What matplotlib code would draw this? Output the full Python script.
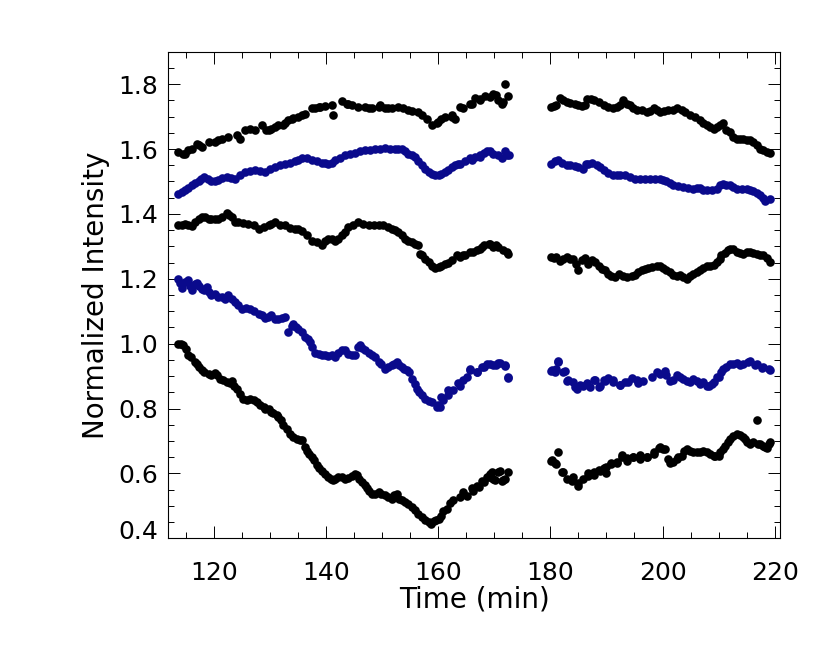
import matplotlib
matplotlib.use("Agg")
import matplotlib.pyplot as plt
import matplotlib.transforms as mtransforms
from matplotlib.ticker import MultipleLocator

plt.rcParams['font.family'] = ['DejaVu Sans']

# series 1 (top, black)
s1_t = [113.7, 114.9, 116.1, 117.3, 119.1, 120.8, 122.6, 124.1, 125.6, 127.4,
        128.6, 129.8, 131.0, 132.7, 133.9, 135.7, 137.5, 138.7, 139.8, 141.3,
        142.8, 144.0, 145.8, 147.6, 149.4, 151.1, 152.9, 154.7, 156.5, 158.0,
        158.9, 160.0, 161.2, 162.4,
        163.9, 165.7, 167.5, 169.2, 169.8, 170.7, 171.3, 171.9, 172.5,
        180.2, 181.1, 181.7, 182.9, 184.4, 186.2, 186.5, 187.7, 189.5, 191.2,
        191.8, 193.0, 194.2, 195.4, 197.2, 198.4, 199.6, 201.0, 202.5, 203.4,
        204.9, 206.7, 207.9, 209.1, 210.2, 211.4, 212.6, 213.8, 215.0, 216.2,
        217.4, 218.6, 219.2]
s1_v = [1.591, 1.586, 1.599, 1.612, 1.622, 1.627, 1.637, 1.643, 1.658, 1.658,
        1.673, 1.658, 1.668, 1.679, 1.694, 1.704, 1.725, 1.730, 1.733, 1.706,
        1.747, 1.740, 1.730, 1.725, 1.730, 1.725, 1.730, 1.720, 1.715, 1.694,
        1.673, 1.684, 1.699, 1.699,
        1.730, 1.740, 1.754, 1.761, 1.771, 1.751, 1.740, 1.802, 1.764,
        1.730, 1.737, 1.756, 1.745, 1.740, 1.735, 1.754, 1.751, 1.735, 1.725,
        1.730, 1.751, 1.735, 1.720, 1.715, 1.725, 1.715, 1.720, 1.725, 1.720,
        1.704, 1.689, 1.673, 1.663, 1.673, 1.658, 1.637, 1.632, 1.627, 1.622,
        1.601, 1.591, 1.589]
s1b_t = [114.6, 115.5, 117.0, 117.9, 120.2, 121.4, 124.7, 126.5, 129.4, 130.3,
         131.5, 132.4, 133.3, 134.2, 135.1, 136.3, 138.1, 139.0, 141.0, 143.7,
         144.6, 147.0, 148.2, 149.7, 150.5, 151.7, 153.8, 155.3, 157.1, 159.8,
         160.6, 162.4, 163.0, 164.5, 166.0, 166.6, 167.5, 168.4, 170.3, 171.5,
         180.7, 182.3, 183.5, 185.0, 185.6, 187.2, 188.6, 190.3, 192.4, 193.6,
         194.8, 196.3, 197.8, 199.0, 200.3, 201.9, 204.0, 205.8, 207.3, 208.5,
         209.7, 210.8, 212.0, 213.2, 214.4, 215.6, 216.8, 218.0]
s1b_v = [1.586, 1.596, 1.617, 1.607, 1.622, 1.632, 1.632, 1.663, 1.658, 1.663,
         1.673, 1.673, 1.689, 1.696, 1.699, 1.709, 1.725, 1.730, 1.735, 1.740,
         1.737, 1.730, 1.725, 1.735, 1.727, 1.725, 1.725, 1.717, 1.704, 1.679,
         1.694, 1.706, 1.694, 1.727, 1.740, 1.756, 1.751, 1.764, 1.766, 1.746,
         1.733, 1.751, 1.743, 1.737, 1.733, 1.754, 1.745, 1.730, 1.737, 1.740,
         1.725, 1.720, 1.717, 1.720, 1.717, 1.720, 1.715, 1.699, 1.679, 1.668,
         1.668, 1.679, 1.653, 1.632, 1.632, 1.627, 1.612, 1.596]

# series 2 (blue)
s2_t = [113.7, 114.9, 116.1, 117.3, 118.2, 119.6, 120.8, 122.3, 123.8, 125.6,
        127.4, 129.2, 130.9, 132.7, 134.5, 135.7, 137.5, 139.3, 140.4, 141.6,
        143.4, 145.2, 147.0, 148.8, 150.5, 152.3, 153.5, 154.7, 155.9, 157.1,
        158.3, 159.5, 160.6, 161.8, 163.0,
        163.9, 165.7, 167.5, 168.7, 169.8, 171.3, 171.9, 172.7,
        180.2, 181.4, 182.9, 184.4, 185.9, 186.8, 188.3, 189.5, 191.2, 192.4,
        194.2, 196.0, 197.8, 199.6, 200.7, 201.9, 203.7, 205.5, 206.7, 207.9,
        209.7, 210.8, 212.0, 213.2, 215.0, 216.2, 217.4, 218.3, 219.2]
s2_v = [1.462, 1.473, 1.488, 1.501, 1.514, 1.501, 1.504, 1.514, 1.509, 1.530,
        1.535, 1.530, 1.545, 1.555, 1.562, 1.571, 1.565, 1.558, 1.555, 1.565,
        1.583, 1.589, 1.596, 1.599, 1.603, 1.599, 1.601, 1.586, 1.576, 1.550,
        1.530, 1.519, 1.524, 1.535, 1.552,
        1.555, 1.573, 1.583, 1.593, 1.586, 1.571, 1.593, 1.581,
        1.555, 1.565, 1.552, 1.548, 1.540, 1.555, 1.552, 1.535, 1.519, 1.521,
        1.514, 1.507, 1.507, 1.509, 1.501, 1.490, 1.483, 1.478, 1.480, 1.473,
        1.478, 1.493, 1.490, 1.478, 1.476, 1.470, 1.457, 1.439, 1.445]
s2b_t = [114.3, 115.5, 116.7, 117.7, 118.9, 120.2, 121.5, 123.1, 124.7, 126.5,
         128.3, 130.0, 131.8, 133.6, 135.1, 136.6, 138.4, 139.8, 141.0, 142.5,
         144.3, 146.1, 147.9, 149.7, 151.4, 152.9, 154.1, 155.3, 156.5, 157.7,
         158.9, 160.1, 161.2, 162.4, 163.6, 164.8, 166.0, 166.6, 167.5, 168.1,
         169.2, 170.6, 172.2,
         180.8, 182.0, 183.5, 185.0, 186.4, 187.5, 188.9, 190.3, 191.8, 193.3,
         195.1, 196.9, 198.7, 200.1, 201.3, 202.8, 204.6, 206.1, 207.3, 208.8,
         210.2, 211.4, 212.6, 214.1, 215.6, 216.8, 218.0]
s2b_v = [1.468, 1.480, 1.496, 1.507, 1.509, 1.501, 1.511, 1.511, 1.519, 1.531,
         1.531, 1.538, 1.550, 1.558, 1.565, 1.571, 1.562, 1.558, 1.558, 1.573,
         1.586, 1.593, 1.596, 1.601, 1.601, 1.601, 1.593, 1.581, 1.562, 1.540,
         1.524, 1.519, 1.530, 1.545, 1.555, 1.562, 1.565, 1.576, 1.576, 1.589,
         1.593, 1.581, 1.583,
         1.562, 1.558, 1.552, 1.545, 1.555, 1.558, 1.545, 1.527, 1.519, 1.519,
         1.509, 1.507, 1.509, 1.504, 1.496, 1.486, 1.480, 1.480, 1.473, 1.473,
         1.490, 1.490, 1.483, 1.478, 1.473, 1.466, 1.449]

# series 3 (middle, black)
s3_t = [113.7, 114.9, 116.1, 117.3, 118.5, 119.6, 120.8, 122.3, 123.2, 124.4,
        126.2, 128.0, 129.8, 130.9, 132.7, 134.5, 135.7, 137.5, 139.3, 140.4,
        141.6, 142.8, 144.0, 145.8, 147.6, 149.4, 151.1, 152.3, 152.9, 154.1,
        155.3, 156.5, 157.1, 158.3, 159.5, 160.6, 161.8,
        163.9, 165.7, 166.9, 168.1, 169.0, 169.8, 170.7, 171.6, 172.5,
        180.2, 181.1, 181.7, 182.9, 184.1, 185.0, 186.2, 186.8, 188.0, 189.2,
        190.3, 191.5, 193.0, 194.5, 195.7, 196.9, 198.1, 199.6, 200.7, 201.9,
        203.1, 204.3, 205.5, 206.7, 207.9, 209.1, 210.2, 211.1, 212.0, 213.2,
        214.4, 215.6, 216.8, 218.0, 219.2]
s3_v = [1.365, 1.370, 1.363, 1.385, 1.390, 1.385, 1.383, 1.404, 1.390, 1.375,
        1.370, 1.354, 1.365, 1.375, 1.365, 1.354, 1.346, 1.318, 1.303, 1.324,
        1.315, 1.334, 1.360, 1.375, 1.365, 1.367, 1.360, 1.349, 1.344, 1.324,
        1.313, 1.303, 1.272, 1.252, 1.233, 1.241, 1.249,
        1.267, 1.282, 1.288, 1.303, 1.308, 1.298, 1.298, 1.288, 1.277,
        1.267, 1.267, 1.254, 1.267, 1.262, 1.226, 1.264, 1.246, 1.252, 1.231,
        1.216, 1.205, 1.210, 1.208, 1.221, 1.229, 1.236, 1.241, 1.226, 1.212,
        1.212, 1.200, 1.216, 1.226, 1.241, 1.243, 1.262, 1.280, 1.293, 1.284,
        1.277, 1.282, 1.277, 1.272, 1.252]
s3b_t = [114.3, 115.5, 116.7, 117.9, 119.1, 120.2, 121.5, 122.7, 123.8, 125.3,
         127.1, 128.9, 130.3, 131.8, 133.6, 135.1, 136.6, 138.4, 139.8, 141.0,
         142.2, 143.4, 144.9, 146.7, 148.5, 150.2, 151.7, 153.5, 154.7, 155.9,
         156.8, 157.7, 158.9, 160.1, 161.2, 162.4, 163.3, 164.5, 164.8, 166.3,
         167.5, 167.8, 169.2, 170.4, 172.2,
         180.7, 182.3, 183.5, 184.6, 185.6, 187.4, 188.6, 189.7, 190.9, 192.3,
         193.6, 195.1, 196.3, 197.5, 199.0, 200.1, 201.3, 202.5, 203.7, 204.9,
         206.1, 207.3, 208.5, 209.7, 210.5, 211.7, 212.6, 213.8, 215.0, 216.2,
         217.4, 218.6]
s3b_v = [1.367, 1.365, 1.375, 1.390, 1.385, 1.383, 1.390, 1.396, 1.375, 1.373,
         1.365, 1.360, 1.370, 1.365, 1.356, 1.352, 1.334, 1.313, 1.318, 1.322,
         1.324, 1.344, 1.365, 1.370, 1.367, 1.365, 1.352, 1.334, 1.318, 1.308,
         1.277, 1.262, 1.241, 1.236, 1.246, 1.257, 1.272, 1.274, 1.272, 1.282,
         1.293, 1.298, 1.308, 1.303, 1.282,
         1.264, 1.262, 1.260, 1.246, 1.257, 1.257, 1.241, 1.226, 1.210, 1.216,
         1.205, 1.212, 1.226, 1.233, 1.239, 1.233, 1.221, 1.210, 1.205, 1.210,
         1.221, 1.233, 1.241, 1.252, 1.272, 1.288, 1.291, 1.280, 1.282, 1.280,
         1.274, 1.264]

# series 4 (blue)
s4_t = [113.7, 114.3, 115.5, 116.1, 117.0, 117.9, 118.8, 119.6, 120.8, 122.0,
        122.6, 123.8, 125.0, 126.5, 128.0, 129.2, 130.3, 131.5, 132.7, 133.3,
        134.2, 135.1, 136.3, 137.2, 138.1, 139.3, 140.4, 141.6, 142.8, 144.0,
        145.2, 146.1, 147.0, 148.2, 149.4, 150.5, 151.7, 152.6, 153.5, 154.4,
        155.3, 156.2, 157.1, 158.3, 159.8, 160.6, 161.8,
        163.9, 165.1, 165.7, 166.9, 168.1, 169.2, 170.4, 171.0, 171.9, 172.5,
        180.2, 181.1, 181.4, 182.3, 182.9, 184.1, 184.7, 185.9, 187.1, 188.0,
        188.9, 189.8, 191.2, 192.4, 193.9, 195.4, 196.6, 198.1, 199.0, 200.5,
        201.3, 202.5, 203.7, 204.9, 206.1, 207.3, 208.2, 209.1, 210.0, 210.5,
        211.4, 212.6, 213.8, 215.3, 216.5, 217.7, 219.2]
s4_v = [1.200, 1.171, 1.195, 1.164, 1.188, 1.169, 1.174, 1.149, 1.144, 1.138,
        1.149, 1.128, 1.108, 1.108, 1.092, 1.079, 1.087, 1.075, 1.082, 1.036,
        1.061, 1.046, 1.020, 1.005, 0.972, 0.966, 0.962, 0.959, 0.979, 0.969,
        0.966, 0.995, 0.979, 0.964, 0.943, 0.923, 0.933, 0.943, 0.928, 0.918,
        0.892, 0.861, 0.841, 0.822, 0.805, 0.835, 0.856,
        0.871, 0.897, 0.922, 0.912, 0.927, 0.938, 0.933, 0.941, 0.930, 0.893,
        0.917, 0.922, 0.945, 0.912, 0.886, 0.881, 0.861, 0.871, 0.866, 0.889,
        0.871, 0.886, 0.881, 0.873, 0.881, 0.889, 0.886, 0.897, 0.912, 0.917,
        0.886, 0.902, 0.891, 0.881, 0.886, 0.881, 0.869, 0.881, 0.897, 0.912,
        0.927, 0.938, 0.933, 0.943, 0.933, 0.924, 0.920]
s4b_t = [114.0, 114.9, 115.8, 116.6, 117.3, 118.3, 119.2, 120.2, 121.4, 123.2,
         124.4, 125.7, 127.1, 128.6, 129.7, 130.9, 132.1, 133.9, 134.6, 135.7,
         136.8, 137.6, 138.7, 139.8, 141.0, 142.2, 143.4, 144.6, 145.7, 146.5,
         147.6, 148.8, 149.9, 151.1, 152.2, 153.0, 154.0, 154.8, 155.8, 156.6,
         157.7, 158.9, 159.9,
         160.3, 160.9, 161.8, 162.7, 163.6, 164.5, 165.7, 166.9, 167.8, 168.7,
         169.8, 170.7, 171.9, 172.5,
         180.3, 180.8, 181.4, 182.6, 183.2, 184.4, 185.3, 186.5, 187.7, 188.6,
         189.5, 190.3, 191.2, 192.4, 193.3, 194.5, 195.7,
         199.6, 200.7, 201.9, 203.1, 204.3, 205.5, 206.7, 207.9, 208.8, 209.7,
         210.8, 212.0, 213.2, 214.4, 215.6, 216.8, 218.0, 218.9]
s4b_v = [1.188, 1.190, 1.179, 1.185, 1.177, 1.167, 1.159, 1.154, 1.144, 1.138,
         1.118, 1.110, 1.102, 1.089, 1.082, 1.077, 1.079, 1.056, 1.051, 1.036,
         1.015, 0.989, 0.969, 0.964, 0.966, 0.972, 0.979, 0.964, 0.989, 0.986,
         0.972, 0.959, 0.938, 0.928, 0.938, 0.933, 0.923, 0.912, 0.876, 0.851,
         0.830, 0.820, 0.810,
         0.806, 0.826, 0.842, 0.857, 0.878, 0.888, 0.919, 0.914, 0.929, 0.937,
         0.934, 0.941, 0.934, 0.896,
         0.919, 0.914, 0.947, 0.917, 0.888, 0.865, 0.873, 0.878, 0.888, 0.865,
         0.888, 0.893, 0.888, 0.873, 0.883, 0.893, 0.878,
         0.907, 0.902, 0.889, 0.897, 0.886, 0.891, 0.876, 0.871, 0.876, 0.897,
         0.922, 0.938, 0.941, 0.938, 0.948, 0.938, 0.927, 0.922]

# series 5 (bottom, black)
s5_t = [113.7, 114.6, 115.5, 116.7, 117.9, 119.1, 120.2, 121.1, 122.3, 123.2,
        124.1, 125.3, 126.5, 127.7, 128.9, 129.8, 130.6, 131.5, 132.4, 133.6,
        134.8, 135.7, 136.6, 137.5, 138.4, 139.3, 140.4, 141.3, 142.2, 143.4,
        144.6, 145.5, 146.4, 147.3, 148.2, 149.4, 150.5, 151.7, 152.6, 153.5,
        154.7, 155.9, 157.1, 158.3, 159.2, 160.1, 160.9, 162.1,
        163.9, 165.1, 166.3, 166.9, 167.8, 168.7, 169.2, 169.8, 170.7, 171.3,
        171.9, 172.5,
        180.2, 181.1, 181.4, 182.0, 182.9, 183.8, 185.0, 185.9, 186.8, 187.7,
        188.9, 190.0, 190.9, 191.8, 192.7, 193.6, 194.8, 196.0, 197.2, 198.4,
        199.6, 200.5, 201.3, 202.5, 203.4, 204.3, 205.5, 206.7, 207.9, 209.1,
        210.0, 210.8, 211.7, 212.6, 213.8, 214.7, 215.6, 216.8, 217.1, 218.0,
        218.6, 219.2]
s5_v = [1.000, 0.995, 0.966, 0.943, 0.918, 0.907, 0.910, 0.892, 0.882, 0.884,
        0.861, 0.830, 0.828, 0.820, 0.805, 0.799, 0.787, 0.774, 0.748, 0.722,
        0.707, 0.702, 0.668, 0.651, 0.625, 0.609, 0.589, 0.579, 0.589, 0.584,
        0.592, 0.596, 0.574, 0.555, 0.538, 0.543, 0.532, 0.522, 0.538, 0.517,
        0.507, 0.486, 0.466, 0.450, 0.452, 0.461, 0.483, 0.510,
        0.526, 0.531, 0.547, 0.562, 0.578, 0.588, 0.598, 0.583, 0.603, 0.578,
        0.583, 0.603,
        0.639, 0.629, 0.667, 0.603, 0.583, 0.578, 0.560, 0.583, 0.593, 0.603,
        0.608, 0.619, 0.629, 0.632, 0.650, 0.639, 0.650, 0.644, 0.650, 0.665,
        0.680, 0.675, 0.632, 0.644, 0.655, 0.675, 0.665, 0.667, 0.667, 0.655,
        0.655, 0.675, 0.696, 0.716, 0.719, 0.706, 0.691, 0.766, 0.691, 0.686,
        0.677, 0.698]
s5b_t = [114.2, 115.0, 116.0, 117.0, 117.4, 118.3, 119.6, 120.5, 121.7, 122.9,
         123.7, 124.7, 125.9, 127.1, 128.3, 129.2, 130.2, 131.2, 132.0, 133.0,
         134.2, 135.3, 136.2, 137.0, 137.9, 138.8, 139.8, 140.9, 141.7, 142.8,
         144.0, 145.1, 145.9, 146.9, 147.7, 148.8, 149.9, 151.0, 152.2, 153.1,
         154.1, 155.3, 156.5, 157.7, 158.7, 159.6, 160.5, 161.5, 162.7,
         164.5, 166.0, 167.2, 168.1, 169.0, 169.6, 170.2, 171.0, 171.6,
         180.3, 180.8, 182.3, 184.1, 185.0, 186.8, 187.7, 188.6, 189.5, 190.0,
         190.9, 191.8, 192.7, 193.6, 194.8, 196.0, 197.2, 198.4, 199.3,
         200.1, 201.0, 201.9, 202.8, 203.8, 204.9, 206.1, 207.3, 208.5, 209.4,
         210.2, 211.1, 212.1, 213.2, 214.3, 215.1, 216.2, 217.4, 218.3, 218.9]
s5b_v = [1.000, 0.984, 0.959, 0.938, 0.928, 0.912, 0.902, 0.902, 0.887, 0.880,
         0.871, 0.846, 0.825, 0.825, 0.812, 0.799, 0.789, 0.781, 0.764, 0.738,
         0.712, 0.702, 0.681, 0.661, 0.640, 0.617, 0.599, 0.584, 0.584, 0.588,
         0.586, 0.599, 0.584, 0.563, 0.545, 0.538, 0.538, 0.527, 0.532, 0.522,
         0.512, 0.496, 0.476, 0.455, 0.445, 0.455, 0.469, 0.491, 0.517,
         0.544, 0.554, 0.558, 0.574, 0.590, 0.605, 0.580, 0.608, 0.580,
         0.641, 0.631, 0.605, 0.590, 0.570, 0.600, 0.595, 0.611, 0.616, 0.600,
         0.631, 0.636, 0.657, 0.647, 0.652, 0.657, 0.650, 0.660, 0.677,
         0.675, 0.644, 0.634, 0.650, 0.670, 0.670, 0.665, 0.670, 0.660, 0.655,
         0.665, 0.686, 0.706, 0.722, 0.711, 0.696, 0.696, 0.691, 0.680, 0.691]

black = 'black'
blue = '#0a0a8c'
series = [(s1_t + s1b_t, s1_v + s1b_v, black),
          (s2_t + s2b_t, s2_v + s2b_v, blue),
          (s3_t + s3b_t, s3_v + s3b_v, black),
          (s4_t + s4b_t, s4_v + s4b_v, blue),
          (s5_t + s5b_t, s5_v + s5b_v, black)]

fig = plt.figure(figsize=(8.3, 6.45), dpi=100)
ax = fig.add_axes([0.2024, 0.1654, 0.7374, 0.7544])

for t, v, c in series:
    ax.plot(t, v, 'o', ms=6.2, color=c, mec='none', ls='none')

ax.set_xlim(111.85, 220.95)
ax.set_ylim(0.4, 1.9)
ax.xaxis.set_major_locator(MultipleLocator(20))
ax.xaxis.set_minor_locator(MultipleLocator(5))
ax.set_yticks([0.4, 0.6, 0.8, 1.0, 1.2, 1.4, 1.6, 1.8])
ax.set_yticklabels(['0.4', '0.6', '0.8', '1.0', '1.2', '1.4', '1.6', '1.8'])
ax.yaxis.set_minor_locator(MultipleLocator(0.05))

ax.tick_params(which='both', direction='in', top=True, right=True, width=0.7)
ax.tick_params(which='major', length=8.6, labelsize=18)
ax.tick_params(which='minor', length=4.3)
ax.tick_params(axis='x', pad=16)
ax.tick_params(axis='y', pad=7)
for sp in ax.spines.values():
    sp.set_linewidth(0.8)

# bottom label sits a little above the axis corner
lab = ax.get_yticklabels()[0]
lab.set_transform(lab.get_transform() +
                  mtransforms.ScaledTranslation(0, 6 / 72, fig.dpi_scale_trans))

ax.set_xlabel('Time (min)', fontsize=20, labelpad=1)
ax.set_ylabel('Normalized Intensity', fontsize=20, labelpad=6)

fig.savefig('out.png', dpi=100)
